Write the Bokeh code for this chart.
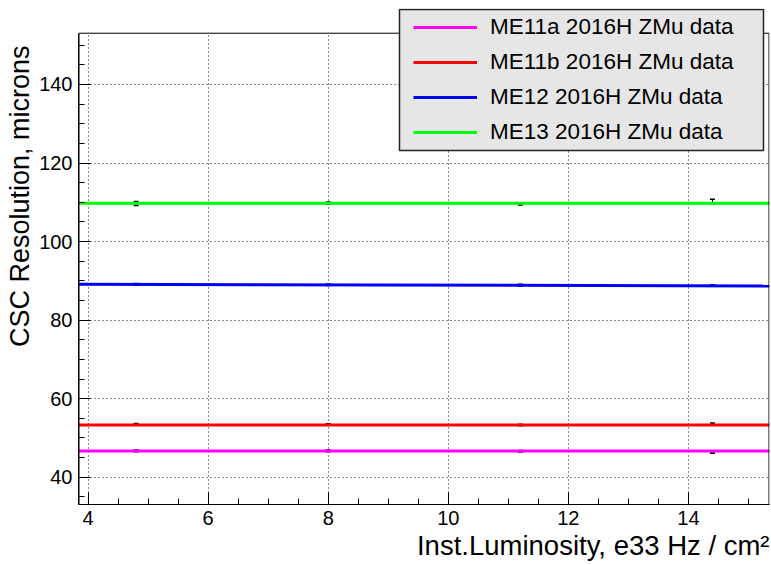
from bokeh.plotting import figure
from bokeh.models import (Range1d, SingleIntervalTicker, Legend, LegendItem, Title,
                          BoxAnnotation, ColumnDataSource)
from bokeh.embed import file_html
from bokeh.resources import INLINE

# ---- data ----
lumi = [4.8, 8.0, 11.2, 14.4]

me11a_res = [46.7, 46.7, 46.6, 46.3]
me11a_err = [0.2, 0.2, 0.2, 0.2]
me11b_res = [53.5, 53.4, 53.3, 53.6]
me11b_err = [0.2, 0.2, 0.2, 0.2]
me12_res = [89.1, 89.0, 88.9, 88.8]
me12_err = [0.2, 0.2, 0.2, 0.2]
me13_res = [109.7, 109.8, 109.6, 110.2]
me13_err = [0.5, 0.3, 0.3, 0.6]

fit_x = [3.84, 15.35]
me11a_fit = [46.65, 46.65]
me11b_fit = [53.28, 53.28]
me12_fit = [89.1, 88.7]
me13_fit = [109.75, 109.75]

labels = ["ME11a 2016H ZMu data", "ME11b 2016H ZMu data",
          "ME12 2016H ZMu data", "ME13 2016H ZMu data"]
colors = ["#ff00ff", "#ff0000", "#0000ff", "#00ff00"]

x_title = "Inst.Luminosity, e33 Hz / cm²"
y_title = "CSC Resolution, microns"

# axis frame limits (ROOT frame) and the extra strip above it for the legend
X0, X1 = 3.84, 15.35
Y0, Y1 = 33.05, 153.05
Y_TOP = 159.34

FONT = "Liberation Sans"

p = figure(width=771, height=565, output_backend="svg", toolbar_location=None,
           x_range=Range1d(X0, X1), y_range=Range1d(Y0, Y_TOP),
           min_border_left=78, min_border_right=2, min_border_top=8,
           min_border_bottom=61, background_fill_color="white",
           border_fill_color="white")

p.outline_line_color = None

p.xaxis.ticker = SingleIntervalTicker(interval=2, num_minor_ticks=4)
p.yaxis.ticker = SingleIntervalTicker(interval=20, num_minor_ticks=4)
p.yaxis.bounds = (Y0, Y1)

for ax in (p.xaxis, p.yaxis):
    ax.axis_line_color = "black"
    ax.major_tick_line_color = "black"
    ax.minor_tick_line_color = "black"
    ax.major_tick_in = 12
    ax.major_tick_out = 0
    ax.minor_tick_in = 6
    ax.minor_tick_out = 0
    ax.major_label_text_font = FONT
    ax.major_label_text_font_size = "20px"
    ax.major_label_text_color = "black"
p.xaxis.major_label_standoff = 6
p.yaxis.major_label_standoff = 6

p.xgrid.grid_line_color = "black"
p.ygrid.grid_line_color = "black"
p.xgrid.grid_line_dash = "1 3"
p.ygrid.grid_line_dash = "1 3"
p.xgrid.grid_line_alpha = 0.9
p.ygrid.grid_line_alpha = 0.9

series = [
    (me11a_res, me11a_err, me11a_fit),
    (me11b_res, me11b_err, me11b_fit),
    (me12_res, me12_err, me12_fit),
    (me13_res, me13_err, me13_fit),
]

items = []
for (res, err, fit), lab, col in zip(series, labels, colors):
    lo = [r - e for r, e in zip(res, err)]
    hi = [r + e for r, e in zip(res, err)]
    src = ColumnDataSource(dict(x=lumi, y=res, lo=lo, hi=hi))
    p.segment(x0="x", y0="lo", x1="x", y1="hi", source=src, line_color="black", line_width=1)
    p.dash(x="x", y="lo", source=src, size=5, line_color="black", line_width=1.5)
    p.dash(x="x", y="hi", source=src, size=5, line_color="black", line_width=1.5)
    r = p.line(fit_x, fit, line_color=col, line_width=3)
    items.append(LegendItem(label=lab, renderers=[r]))

# white strip above the ROOT frame (hides grid lines there)
p.add_layout(BoxAnnotation(bottom=Y1, fill_color="white", fill_alpha=1,
                           line_alpha=0))
# the ROOT frame
half = 0.5 / 60.0
p.add_layout(BoxAnnotation(left=X0 + half, right=X1 - half, bottom=Y0, top=Y1,
                           fill_alpha=0, line_color="black", line_width=1,
                           line_alpha=1))

# legend box
p.add_layout(BoxAnnotation(left=399, right=763, top=9, bottom=150,
                           left_units="canvas", right_units="canvas",
                           top_units="canvas", bottom_units="canvas",
                           fill_color="#e6e6e6", fill_alpha=1,
                           line_color="#222222", line_width=1.5, line_alpha=1))

legend = Legend(items=items, location=(335, 357), padding=0, margin=0,
                spacing=5, glyph_width=64, glyph_height=30, label_height=30,
                label_standoff=13, label_text_font=FONT, label_text_font_size="22.5px",
                label_text_color="black",
                background_fill_alpha=0, border_line_alpha=0)
p.add_layout(legend, "center")

p.add_layout(Title(text=y_title, align="right", text_font=FONT, text_font_size="27px",
                   text_font_style="normal", text_color="black", standoff=4,
                   offset=37), "left")
p.add_layout(Title(text=x_title, align="right", text_font=FONT, text_font_size="27.5px",
                   text_font_style="normal", text_color="black", standoff=0), "below")

open("out.html", "w").write(file_html(p, INLINE))
